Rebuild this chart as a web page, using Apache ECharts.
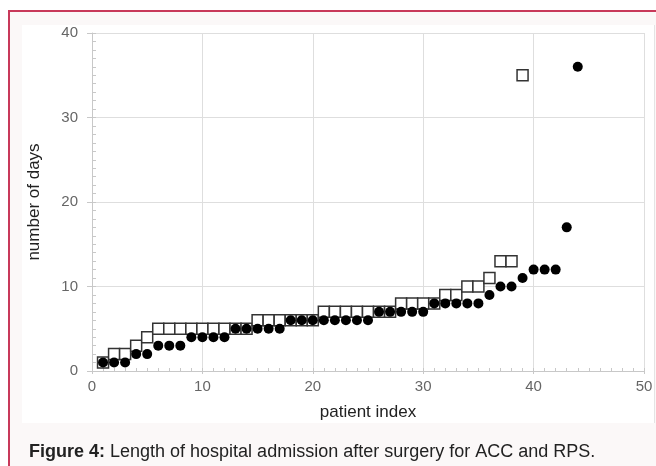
<!DOCTYPE html>
<html>
<head>
<meta charset="utf-8">
<script src="https://cdn.jsdelivr.net/npm/echarts@6/dist/echarts.min.js"></script>
<style>
  body { margin: 0; background: #fff; }
  #wrap { position: relative; width: 656px; height: 466px; overflow: hidden; }
  #frame { position: absolute; left: 8px; top: 10px; right: 0; bottom: 0;
           border-left: 2px solid #c8395a; border-top: 2px solid #c8395a; background: #fbf8f8; }
  #panel { position: absolute; left: 22px; top: 25px; width: 632px; height: 398px;
           background: #fff; border-right: 1px solid #e4e4e4; }
  #chart { position: absolute; left: 0; top: 0; width: 656px; height: 466px; }
</style>
</head>
<body>
<div id="wrap">
  <div id="frame"></div>
  <div id="panel"></div>
  <div id="chart"></div>
</div>
<script>
// length of stay (days), patients sorted, index starts at 1
var accDays = [1, 2, 2, 3, 4, 5, 5, 5, 5, 5, 5, 5, 5, 5, 6, 6, 6, 6, 6, 6,
               7, 7, 7, 7, 7, 7, 7, 8, 8, 8, 8, 9, 9, 10, 10, 11, 13, 13, 35];
var rpsDays = [1, 1, 1, 2, 2, 3, 3, 3, 4, 4, 4, 4, 5, 5, 5, 5, 5, 6, 6, 6,
               6, 6, 6, 6, 6, 7, 7, 7, 7, 7, 8, 8, 8, 8, 8, 9, 10, 10, 11, 12,
               12, 12, 17, 36];
var xTicks = [0, 10, 20, 30, 40, 50];
var yTicks = [0, 10, 20, 30, 40];
var captionBold = "Figure 4:";
var captionText = " Length of hospital admission after surgery for ACC and RPS.";

function toPoints(arr) {
    return arr.map(function (v, i) { return [i + 1, v]; });
}

var font = "Liberation Sans, Arial, sans-serif";
var chart = echarts.init(document.getElementById("chart"));
chart.setOption({
    animation: false,
    title: {
        left: 24,
        top: 438,
        text: "{b|" + captionBold + "}{n|" + captionText + "}",
        textStyle: {
            rich: {
                b: { fontFamily: font, fontSize: 18, fontWeight: "bold", color: "#222" },
                n: { fontFamily: font, fontSize: 18, fontWeight: "normal", color: "#222" }
            }
        }
    },
    grid: { left: 92, right: 12, top: 33, bottom: 95 },
    xAxis: [
        {
            type: "value",
            min: xTicks[0],
            max: xTicks[xTicks.length - 1],
            interval: 10,
            name: "patient index",
            nameLocation: "middle",
            nameGap: 33,
            nameTextStyle: { fontFamily: font, fontSize: 17, color: "#222" },
            axisLine: { show: true, lineStyle: { color: "#c8c8c8" } },
            axisTick: { show: true, length: 3, lineStyle: { color: "#c8c8c8" } },
            axisLabel: { margin: 8, fontFamily: font, fontSize: 15, color: "#666" },
            splitLine: { show: true, lineStyle: { color: "#dedede" } }
        },
        {
            // small inside ticks every patient
            type: "value",
            position: "bottom",
            min: xTicks[0],
            max: xTicks[xTicks.length - 1],
            interval: 1,
            axisLine: { show: false },
            axisTick: { show: true, inside: true, length: 3, lineStyle: { color: "#c8c8c8" } },
            axisLabel: { show: false },
            splitLine: { show: false }
        }
    ],
    yAxis: [
        {
            type: "value",
            min: yTicks[0],
            max: yTicks[yTicks.length - 1],
            interval: 10,
            name: "number of days",
            nameLocation: "middle",
            nameGap: 49,
            nameTextStyle: { fontFamily: font, fontSize: 17, color: "#222" },
            axisLine: { show: true, lineStyle: { color: "#c8c8c8" } },
            axisTick: { show: true, length: 5, lineStyle: { color: "#c8c8c8" } },
            axisLabel: { margin: 14, fontFamily: font, fontSize: 15, color: "#666" },
            splitLine: { show: true, lineStyle: { color: "#dedede" } }
        },
        {
            type: "value",
            position: "left",
            min: yTicks[0],
            max: yTicks[yTicks.length - 1],
            interval: 1,
            axisLine: { show: false },
            axisTick: { show: true, inside: true, length: 4, lineStyle: { color: "#c8c8c8" } },
            axisLabel: { show: false },
            splitLine: { show: false }
        }
    ],
    series: [
        {
            name: "ACC",
            type: "scatter",
            symbol: "rect",
            symbolSize: 11,
            itemStyle: { color: "#fff", borderColor: "#333", borderWidth: 1.5, opacity: 1 },
            data: toPoints(accDays),
            z: 2
        },
        {
            name: "RPS",
            type: "scatter",
            symbol: "circle",
            symbolSize: 10,
            itemStyle: { color: "#000", opacity: 1 },
            data: toPoints(rpsDays),
            z: 3
        }
    ]
});
</script>
</body>
</html>
